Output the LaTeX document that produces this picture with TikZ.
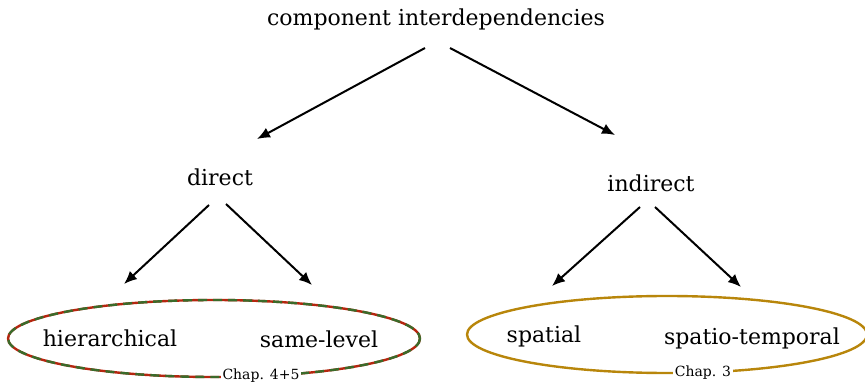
\documentclass[tikz,border=0pt]{standalone}
\usepackage{fontspec}
\setmainfont{DejaVu Serif}
\usetikzlibrary{arrows.meta,calc}
\definecolor{ellred}{HTML}{B5260F}
\definecolor{ellgreen}{HTML}{3A6B2A}
\definecolor{ellgold}{HTML}{B8860B}
\tikzset{
  lbl/.style={inner sep=0pt, font=\fontsize{22}{26}\selectfont},
  chap/.style={inner sep=2pt, fill=white, font=\fontsize{14}{16}\selectfont},
  arr/.style={line width=2pt, -{Latex[length=13pt,width=11pt]}},
}
\begin{document}
\begin{tikzpicture}[x=1pt,y=-1pt]
\useasboundingbox (0,0) rectangle (865,387);
\node[lbl] (top) at (436,19) {component interdependencies};
\node[lbl] (direct) at (220,177) {direct};
\node[lbl] (indirect) at (651,183) {indirect};
% ellipses
\draw[ellred, line width=2.4pt] (214,338.5) ellipse [x radius=206, y radius=38.5];
\draw[ellgreen, line width=2.4pt, dash pattern=on 9pt off 6pt] (214,338.5) ellipse [x radius=206, y radius=38.5];
\draw[ellgold, line width=2.4pt] (667,334.5) ellipse [x radius=200, y radius=38.5];
\node[lbl] (hier) at (110,338) {hierarchical};
\node[lbl] (same) at (319,339) {same-level};
\node[lbl] (spatial) at (544,336) {spatial};
\node[lbl] (spt) at (752,338) {spatio-temporal};
\node[chap] (c45) at (261,376) {Chap. 4+5};
\node[chap] (c3) at (703,373) {Chap. 3};
% arrows
\draw[arr] ($(top)+(-11,29)$) -- ($(direct)+(37,-38)$);
\draw[arr] ($(top)+(14,29)$) -- ($(indirect)+(-36,-48)$);
\draw[arr] ($(direct)+(-11,28)$) -- ($(hier)+(14,-54)$);
\draw[arr] ($(direct)+(6,27)$) -- ($(same)+(-7,-54)$);
\draw[arr] ($(indirect)+(-11,24)$) -- ($(spatial)+(8,-50)$);
\draw[arr] ($(indirect)+(4,24)$) -- ($(spt)+(-11,-51)$);
\end{tikzpicture}
\end{document}
